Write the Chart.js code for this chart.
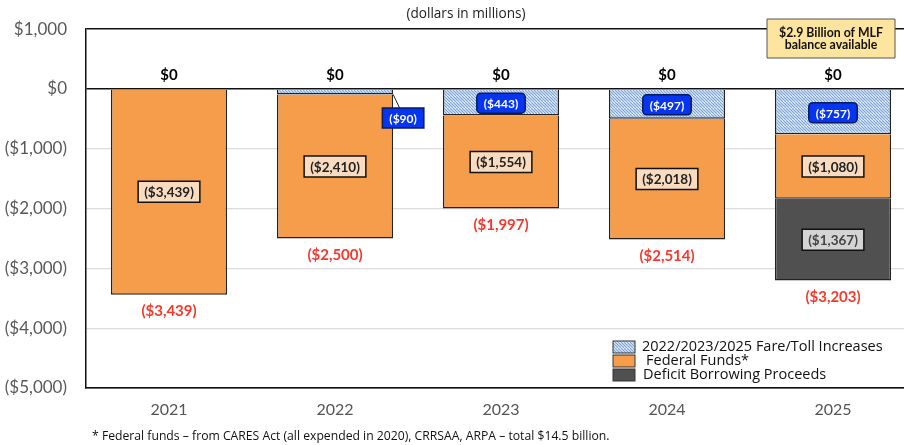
<!DOCTYPE html>
<html>
<head>
<meta charset="utf-8">
<script src="https://cdn.jsdelivr.net/npm/chart.js@4"></script>
<style>
  html, body { margin: 0; padding: 0; overflow: hidden; background: #fff; }
  #wrap { position: relative; width: 922px; height: 445px; }
</style>
</head>
<body>
<div id="wrap"><canvas id="chart" width="922" height="445"></canvas></div>
<script>
// chart values (dollars in millions)
const years = ['2021', '2022', '2023', '2024', '2025'];
const fareIncreases = [0, -90, -443, -497, -757];
const federalFunds = [-3439, -2410, -1554, -2018, -1080];
const deficitBorrowing = [0, 0, 0, 0, -1367];
const totals = [-3439, -2500, -1997, -2514, -3203];
const topLabels = ['$0', '$0', '$0', '$0', '$0'];
const yTicks = [1000, 0, -1000, -2000, -3000, -4000, -5000];

const FONT = 'Lato, "Open Sans", sans-serif';
const SMALL = '"Open Sans", sans-serif';

function money(v) {
    const s = '$' + Math.abs(Math.round(v)).toLocaleString('en-US');
    return v < 0 ? '(' + s + ')' : s;
}

function hatchPattern() {
    const c = document.createElement('canvas');
    c.width = 6; c.height = 6;
    const g = c.getContext('2d');
    g.fillStyle = '#ffffff';
    g.fillRect(0, 0, 6, 6);
    g.strokeStyle = '#7fa6d6';
    g.lineWidth = 1.3;
    for (let k = -6; k <= 12; k += 3) {
        g.beginPath();
        g.moveTo(k, 0);
        g.lineTo(k + 6, 6);
        g.stroke();
    }
    return g.createPattern(c, 'repeat');
}

function box(ctx, cx, cy, text, opts) {
    ctx.font = opts.font;
    const w = ctx.measureText(text).width + opts.padX * 2;
    const h = opts.h;
    const x = cx - w / 2, y = cy - h / 2;
    ctx.beginPath();
    if (opts.radius) {
        ctx.roundRect(x, y, w, h, opts.radius);
    } else {
        ctx.rect(x, y, w, h);
    }
    ctx.fillStyle = opts.fill;
    ctx.fill();
    ctx.lineWidth = 1.5;
    ctx.strokeStyle = opts.stroke;
    ctx.stroke();
    ctx.fillStyle = opts.color;
    ctx.textAlign = 'center';
    ctx.textBaseline = 'middle';
    ctx.fillText(text, cx, cy + 1);
}

const labelPlugin = {
    id: 'labels',
    afterDatasetsDraw(chart) {
        const ctx = chart.ctx;
        const y = chart.scales.y;
        ctx.save();

        years.forEach((yr, i) => {
            const bar = chart.getDatasetMeta(0).data[i];
            const cx = bar.x;
            const half = bar.width / 2;

            // $0 above bars
            ctx.font = 'bold 15px ' + FONT;
            ctx.fillStyle = '#000';
            ctx.textAlign = 'center';
            ctx.textBaseline = 'middle';
            ctx.fillText(topLabels[i], cx, y.getPixelForValue(0) - 14);

            // totals in red below the bars
            ctx.font = 'bold 15px ' + FONT;
            ctx.fillStyle = '#f23a2f';
            ctx.fillText(money(totals[i]), cx, y.getPixelForValue(totals[i]) + 17);

            // federal funds box
            const fTop = fareIncreases[i];
            const fBot = fTop + federalFunds[i];
            box(ctx, cx, (y.getPixelForValue(fTop) + y.getPixelForValue(fBot)) / 2, money(federalFunds[i]), {
                font: 'bold 13.5px ' + FONT, padX: 6, h: 21,
                fill: '#f9dcbf', stroke: '#111', color: '#222'
            });

            // fare / toll increase box
            if (fareIncreases[i] !== 0) {
                const optsBlue = {
                    font: 'bold 12px ' + FONT, padX: 7, h: 20, radius: 4,
                    fill: '#0535f0', stroke: '#0a1a60', color: '#fff'
                };
                if (Math.abs(fareIncreases[i]) < 200) {
                    // small slice: label pulled out with a leader line
                    const lx = cx + half + 10, ly = y.getPixelForValue(0) + 29;
                    ctx.beginPath();
                    ctx.moveTo(cx + half, y.getPixelForValue(fareIncreases[i]));
                    ctx.lineTo(cx + half + 7, ly - 9);
                    ctx.strokeStyle = '#222';
                    ctx.lineWidth = 1;
                    ctx.stroke();
                    optsBlue.radius = 0;
                    box(ctx, lx, ly, money(fareIncreases[i]), optsBlue);
                } else {
                    box(ctx, cx, (y.getPixelForValue(0) + y.getPixelForValue(fareIncreases[i])) / 2 + 1,
                        money(fareIncreases[i]), optsBlue);
                }
            }

            // deficit borrowing box
            if (deficitBorrowing[i] !== 0) {
                const dTop = fBot, dBot = fBot + deficitBorrowing[i];
                box(ctx, cx, (y.getPixelForValue(dTop) + y.getPixelForValue(dBot)) / 2, money(deficitBorrowing[i]), {
                    font: 'bold 13.5px ' + FONT, padX: 6, h: 21,
                    fill: '#d4d4d4', stroke: '#111', color: '#444'
                });
            }
        });

        // units note
        ctx.font = '13.6px ' + SMALL;
        ctx.fillStyle = '#222';
        ctx.textAlign = 'center';
        ctx.textBaseline = 'middle';
        ctx.fillText('(dollars in millions)', 466, 14);

        // MLF note
        ctx.beginPath();
        ctx.rect(767, 19, 128, 39);
        ctx.fillStyle = '#fde59f';
        ctx.fill();
        ctx.lineWidth = 1;
        ctx.strokeStyle = '#555';
        ctx.stroke();
        ctx.font = 'bold 12.3px ' + FONT;
        ctx.fillStyle = '#111';
        ctx.fillText('$2.9 Billion of MLF', 831, 33);
        ctx.fillText('balance available', 831, 45);

        // legend
        const items = [
            { label: '2022/2023/2025 Fare/Toll Increases', fill: chart.data.datasets[0].backgroundColor, x: 642 },
            { label: 'Federal Funds*', fill: chart.data.datasets[1].backgroundColor, x: 646 },
            { label: 'Deficit Borrowing Proceeds', fill: chart.data.datasets[2].backgroundColor, x: 643 }
        ];
        items.forEach((it, k) => {
            const yy = 341 + k * 14;
            ctx.fillStyle = it.fill;
            ctx.fillRect(613, yy, 22, 12);
            ctx.strokeStyle = '#333';
            ctx.lineWidth = 1;
            ctx.strokeRect(613, yy, 22, 12);
            ctx.font = '14.5px ' + SMALL;
            ctx.fillStyle = '#111';
            ctx.textAlign = 'left';
            ctx.fillText(it.label, it.x, yy + 6);
        });

        // footnote
        ctx.font = '12.2px ' + SMALL;
        ctx.fillStyle = '#111';
        ctx.textAlign = 'left';
        ctx.fillText('* Federal funds \u2013 from CARES Act (all expended in 2020), CRRSAA, ARPA \u2013 total $14.5 billion.', 92, 437);

        ctx.restore();
    }
};

document.addEventListener('DOMContentLoaded', () => {
    const ctx = document.getElementById('chart').getContext('2d');
    const hatch = hatchPattern();

    new Chart(ctx, {
        type: 'bar',
        data: {
            labels: years,
            datasets: [
                {
                    label: '2022/2023/2025 Fare/Toll Increases',
                    data: fareIncreases,
                    backgroundColor: hatch,
                    borderColor: '#222',
                    borderWidth: 1.5
                },
                {
                    label: 'Federal Funds*',
                    data: federalFunds,
                    backgroundColor: '#f59d4b',
                    borderColor: '#222',
                    borderWidth: 1.5
                },
                {
                    label: 'Deficit Borrowing Proceeds',
                    data: deficitBorrowing,
                    backgroundColor: '#505050',
                    borderColor: '#222',
                    borderWidth: 1.5
                }
            ]
        },
        options: {
            responsive: false,
            animation: false,
            layout: { padding: { top: 28, right: 6, left: 0, bottom: 0 } },
            datasets: { bar: { categoryPercentage: 1, barPercentage: 0.7 } },
            plugins: {
                legend: { display: false },
                tooltip: { enabled: false }
            },
            scales: {
                x: {
                    stacked: true,
                    grid: { display: false, drawTicks: false },
                    border: { display: true, color: '#111', width: 1.5 },
                    ticks: {
                        color: '#555',
                        padding: 12,
                        font: { family: FONT, size: 16 }
                    },
                    afterFit(scale) { scale.height = 57; }
                },
                y: {
                    stacked: true,
                    min: -5000,
                    max: 1000,
                    afterBuildTicks(scale) { scale.ticks = yTicks.map(v => ({ value: v })); },
                    grid: {
                        drawTicks: false,
                        color: c => (c.tick && (c.tick.value === 0 || c.tick.value === 1000 || c.tick.value === -5000)) ? '#111' : '#dcdcdc',
                        lineWidth: c => (c.tick && (c.tick.value === 0 || c.tick.value === 1000)) ? 1.5 : 1.2
                    },
                    border: { display: true, color: '#111', width: 1.5 },
                    ticks: {
                        color: '#595959',
                        padding: 19,
                        font: { family: FONT, size: 17 },
                        callback: v => money(v)
                    },
                    afterFit(scale) { scale.width = 86; }
                }
            }
        },
        plugins: [labelPlugin]
    });
});
</script>
</body>
</html>
